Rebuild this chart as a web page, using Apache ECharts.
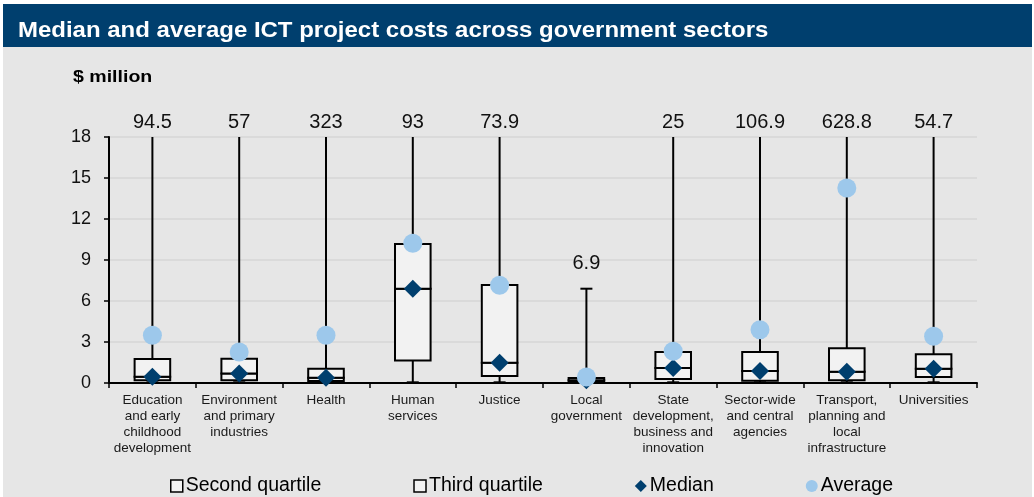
<!DOCTYPE html>
<html>
<head>
<meta charset="utf-8">
<title>Median and average ICT project costs across government sectors</title>
<script src="https://cdn.jsdelivr.net/npm/echarts@6/dist/echarts.min.js"></script>
<style>
  html, body { margin: 0; padding: 0; background: #ffffff; }
  #chart { width: 1034px; height: 497px; }
</style>
</head>
<body>
<div id="chart"></div>
<script>
// Sectors along the x axis
const categories = [
  'Education\nand early\nchildhood\ndevelopment',
  'Environment\nand primary\nindustries',
  'Health',
  'Human\nservices',
  'Justice',
  'Local\ngovernment',
  'State\ndevelopment,\nbusiness and\ninnovation',
  'Sector-wide\nand central\nagencies',
  'Transport,\nplanning and\nlocal\ninfrastructure',
  'Universities'
];

// Project cost distribution per sector ($ million)
const minCost  = [0.05, 0.05, 0.05, 0.05, 0.05, 0.05, 0.05, 0.05, 0.05, 0.05];
const q1Cost   = [0.2, 0.2, 0.15, 1.64, 0.51, 0.1, 0.29, 0.17, 0.2, 0.44];
const medianCost = [0.45, 0.69, 0.38, 6.9, 1.49, 0.2, 1.1, 0.88, 0.83, 1.05];
const q3Cost   = [1.76, 1.78, 1.05, 10.17, 7.17, 0.37, 2.27, 2.27, 2.54, 2.1];
const maxCost  = [94.5, 57, 323, 93, 73.9, 6.9, 25, 106.9, 628.8, 54.7];
const averageCost = [3.49, 2.27, 3.49, 10.22, 7.15, 0.44, 2.32, 3.9, 14.27, 3.42];

// Value axis ticks
const yMin = 0;
const yMax = 18;
const yStep = 3;

const FONT = '"Liberation Sans", Arial, Helvetica, sans-serif';
const NAVY = '#003f6e';
const SKY = '#9dc8eb';
const BOX_FILL = '#f2f2f2';

const lowerData = categories.map((c, i) => [i, minCost[i], q1Cost[i], medianCost[i]]);
const upperData = categories.map((c, i) => [i, medianCost[i], q3Cost[i], maxCost[i]]);

// Lower whisker plus the Q1–median box
function renderLower(params, api) {
  const i = api.value(0);
  const x = api.coord([i, 0])[0];
  const bw = api.size([1, 0])[0] * 0.41;
  const yLo = api.coord([i, api.value(1)])[1];
  const yQ1 = api.coord([i, api.value(2)])[1];
  const yMed = api.coord([i, api.value(3)])[1];
  const stroke = { stroke: '#000', lineWidth: 2 };
  return {
    type: 'group',
    children: [
      { type: 'line', shape: { x1: x, y1: yQ1, x2: x, y2: yLo }, style: stroke },
      { type: 'line', shape: { x1: x - 6, y1: yLo, x2: x + 6, y2: yLo }, style: stroke },
      { type: 'rect', shape: { x: x - bw / 2, y: yMed, width: bw, height: yQ1 - yMed },
        style: { fill: BOX_FILL, stroke: '#000', lineWidth: 2 } }
    ]
  };
}

// Median–Q3 box plus the upper whisker and its maximum label
function renderUpper(params, api) {
  const i = api.value(0);
  const x = api.coord([i, 0])[0];
  const bw = api.size([1, 0])[0] * 0.41;
  const yMed = api.coord([i, api.value(1)])[1];
  const yQ3 = api.coord([i, api.value(2)])[1];
  const maxVal = api.value(3);
  const clipped = maxVal > yMax;
  const yTop = api.coord([i, Math.min(maxVal, yMax)])[1];
  const stroke = { stroke: '#000', lineWidth: 2 };
  const children = [
    { type: 'line', shape: { x1: x, y1: yQ3, x2: x, y2: yTop }, style: stroke }
  ];
  if (!clipped) {
    children.push({ type: 'line', shape: { x1: x - 6, y1: yTop, x2: x + 6, y2: yTop }, style: stroke });
  }
  children.push(
    { type: 'rect', shape: { x: x - bw / 2, y: yQ3, width: bw, height: yMed - yQ3 },
      style: { fill: BOX_FILL, stroke: '#000', lineWidth: 2 } },
    { type: 'text', x: x, y: yTop - (clipped ? 15 : 25),
      style: { text: String(maxVal), fill: '#111', font: '20px ' + FONT,
               textAlign: 'center', textVerticalAlign: 'middle' } }
  );
  return { type: 'group', children: children };
}

const chart = echarts.init(document.getElementById('chart'), null, { renderer: 'canvas' });

chart.setOption({
  animation: false,
  backgroundColor: '#ffffff',
  textStyle: { fontFamily: FONT },
  graphic: [
    { type: 'rect', z: -10, shape: { x: 3, y: 4, width: 1029, height: 493 }, style: { fill: '#e6e6e6' } },
    { type: 'rect', z: -9, shape: { x: 3, y: 4, width: 1029, height: 43 }, style: { fill: NAVY } },
    { type: 'text', x: 18, y: 31, scaleX: 1.09,
      style: { text: 'Median and average ICT project costs across government sectors',
               fill: '#ffffff', font: 'bold 22px ' + FONT, textVerticalAlign: 'middle' } },
    { type: 'text', x: 73, y: 77, scaleX: 1.15,
      style: { text: '$ million', fill: '#000', font: 'bold 17px ' + FONT, textVerticalAlign: 'middle' } }
  ],
  grid: { left: 109, right: 57, top: 137, bottom: 114 },
  legend: {
    left: 165,
    top: 471,
    itemGap: 92,
    itemWidth: 12,
    itemHeight: 12,
    textStyle: { fontSize: 19.5, color: '#000', fontFamily: FONT, padding: [0, 0, 0, -2] },
    data: [
      { name: 'Second quartile', icon: 'rect', itemStyle: { color: BOX_FILL, borderColor: '#000', borderWidth: 1.5 } },
      { name: 'Third quartile', icon: 'rect', itemStyle: { color: BOX_FILL, borderColor: '#000', borderWidth: 1.5 } },
      { name: 'Median', icon: 'diamond', itemStyle: { color: NAVY, borderWidth: 0 } },
      { name: 'Average', icon: 'circle', itemStyle: { color: SKY, borderWidth: 0 } }
    ]
  },
  xAxis: {
    type: 'category',
    data: categories,
    boundaryGap: true,
    axisLine: { lineStyle: { color: '#000', width: 2 } },
    axisTick: { show: true, length: 5, lineStyle: { color: '#000', width: 1.5 } },
    axisLabel: {
      interval: 0, margin: 9, color: '#1a1a1a', fontSize: 13.5, lineHeight: 16,
      fontFamily: FONT, align: 'center'
    },
    splitLine: { show: false }
  },
  yAxis: {
    type: 'value',
    min: yMin,
    max: yMax,
    interval: yStep,
    axisLine: { show: true, lineStyle: { color: '#000', width: 2 } },
    axisTick: { show: true, length: 5, lineStyle: { color: '#000', width: 1.5 } },
    axisLabel: { color: '#111', fontSize: 18, margin: 18, fontFamily: FONT },
    splitLine: { show: true, lineStyle: { color: '#d6d6d6', width: 1.5 } }
  },
  series: [
    {
      name: 'Second quartile',
      type: 'custom',
      renderItem: renderLower,
      data: lowerData,
      encode: { x: 0, y: [1, 2, 3] },
      itemStyle: { color: BOX_FILL, borderColor: '#000', borderWidth: 1.5 },
      z: 2
    },
    {
      name: 'Third quartile',
      type: 'custom',
      renderItem: renderUpper,
      data: upperData,
      encode: { x: 0, y: [1, 2] },
      itemStyle: { color: BOX_FILL, borderColor: '#000', borderWidth: 1.5 },
      z: 2
    },
    {
      name: 'Median',
      type: 'scatter',
      symbol: 'diamond',
      symbolSize: 18,
      data: medianCost,
      itemStyle: { color: NAVY, opacity: 1 },
      z: 3
    },
    {
      name: 'Average',
      type: 'scatter',
      symbol: 'circle',
      symbolSize: 19,
      data: averageCost,
      itemStyle: { color: SKY, opacity: 1 },
      z: 4
    }
  ]
});
</script>
</body>
</html>
